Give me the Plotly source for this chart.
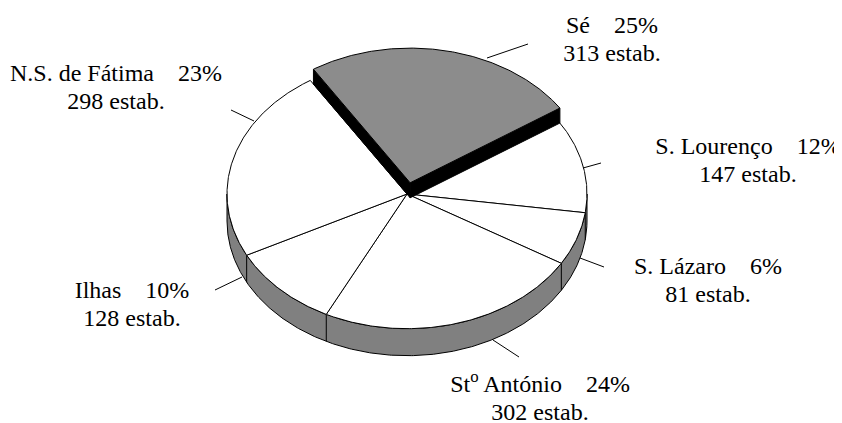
import math
import plotly.graph_objects as go

# Data
names = ["Sé", "S. Lourenço", "S. Lázaro", "St<sup>o</sup> António", "Ilhas", "N.S. de Fátima"]
percents = [25, 12, 6, 24, 10, 23]
estab = [313, 147, 81, 302, 128, 298]

# Geometry and styling (pixel space, y down)
W, H = 842, 423
PAGE_MARGIN = 8
CX, CY, RX, RY = 407, 194, 180, 134.7
DEPTH = 27
EXPL_DEPTH = 15
EXPLODE = 0.085
START = -32.5
GREY_SIDE = "#808080"
GREY_TOP = "#8c8c8c"
FONT = dict(family="Liberation Serif", size=24, color="black")
GAP = "\u00a0\u00a0\u00a0\u00a0"
label_x = [612, 748, 708, 540, 132, 116]
label_y = [27, 148, 268, 386, 292, 75]
line_gap = 27.5
leaders = [((487, 58), (528, 44)), ((583, 168), (601, 163)), ((580, 258), (604, 267)),
           ((493, 340), (519, 357)), ((242, 277), (215, 290)), ((254, 121), (231, 110))]

total = sum(estab)
angles = [START]
for v in estab:
    angles.append(angles[-1] + v / total * 360)


def pt(theta, cx=CX, cy=CY):
    r = math.radians(theta)
    return cx + RX * math.sin(r), cy - RY * math.cos(r)


def arc(a, b, cx=CX, cy=CY):
    n = max(2, int(abs(b - a) * 2))
    return [pt(a + (b - a) * i / n, cx, cy) for i in range(n + 1)]


fig = go.Figure()


def poly(points, fill, line_w=1.0, close=True):
    xs = [p[0] for p in points]
    ys = [p[1] for p in points]
    if close:
        xs.append(xs[0])
        ys.append(ys[0])
    fig.add_trace(go.Scatter(
        x=xs, y=ys, mode="lines",
        fill="toself" if fill else None,
        fillcolor=fill,
        line=dict(color="black", width=line_w),
        hoverinfo="skip", showlegend=False))


# Side wall of the main disc
upper = arc(90, 270)
lower = [(x, y + DEPTH) for x, y in reversed(upper)]
poly(upper + lower, GREY_SIDE)
for a in angles[1:]:
    t = a % 360
    if 90 <= t <= 270:
        x, y = pt(t)
        poly([(x, y), (x, y + DEPTH)], None, close=False)

# Top faces of the non-exploded slices
for i in range(1, len(estab)):
    poly([(CX, CY)] + arc(angles[i], angles[i + 1]), "white")

# Exploded slice
mid = math.radians((angles[0] + angles[1]) / 2)
ex = CX + EXPLODE * RX * math.sin(mid)
ey = CY - EXPLODE * RY * math.cos(mid)
a0, a1 = angles[0], angles[1]
p0, p1 = pt(a0, ex, ey), pt(a1, ex, ey)
poly([(ex, ey), p0, (p0[0], p0[1] + EXPL_DEPTH), (ex, ey + EXPL_DEPTH)], "black")
poly([(ex, ey), p1, (p1[0], p1[1] + EXPL_DEPTH), (ex, ey + EXPL_DEPTH)], "black")
poly([(ex, ey)] + arc(a0, a1, ex, ey), GREY_TOP)

# Leader lines
shapes = [dict(type="line", x0=a[0], y0=a[1], x1=b[0], y1=b[1], xref="x", yref="y",
               line=dict(color="black", width=1)) for a, b in leaders]

# Labels
tx, ty, tt = [], [], []
for i, name in enumerate(names):
    for j, text in enumerate([f"{name}{GAP}{percents[i]}%", f"{estab[i]} estab."]):
        tx.append(label_x[i])
        ty.append(label_y[i] + j * line_gap)
        tt.append(text)
fig.add_trace(go.Scatter(x=tx, y=ty, text=tt, mode="text", textposition="middle center",
                         textfont=FONT, cliponaxis=False, hoverinfo="skip", showlegend=False))

fig.update_layout(
    width=W, height=H, margin=dict(l=0, r=0, t=0, b=0),
    paper_bgcolor="white", plot_bgcolor="white", showlegend=False,
    xaxis=dict(range=[PAGE_MARGIN, W + PAGE_MARGIN], visible=False, fixedrange=True),
    yaxis=dict(range=[H + PAGE_MARGIN, PAGE_MARGIN], visible=False, fixedrange=True),
    shapes=shapes,
)
fig.write_html("out.html", config={"displayModeBar": False})
